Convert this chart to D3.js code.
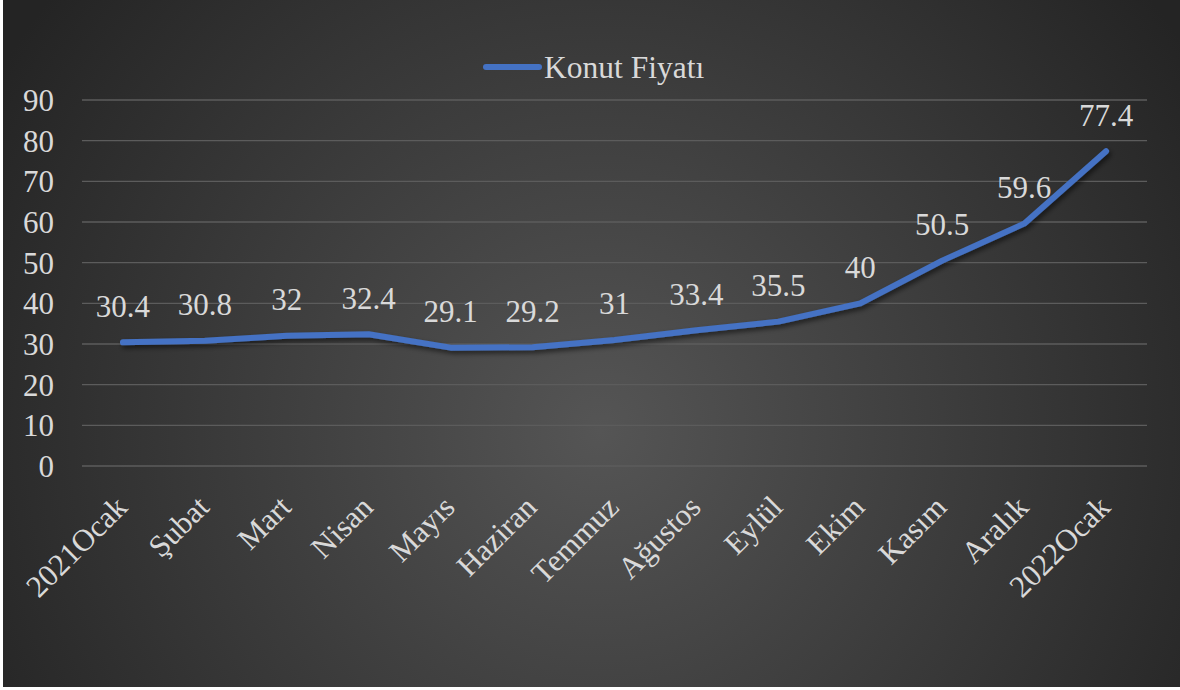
<!DOCTYPE html>
<html>
<head>
<meta charset="utf-8">
<script src="https://cdn.jsdelivr.net/npm/d3@7"></script>
<style>
  html, body { margin: 0; padding: 0; background: #ffffff; }
  svg { display: block; }
</style>
</head>
<body>
<svg id="chart" width="1180" height="690"></svg>
<script>
const categories = ["2021Ocak","Şubat","Mart","Nisan","Mayıs","Haziran","Temmuz","Ağustos","Eylül","Ekim","Kasım","Aralık","2022Ocak"];
const values = [30.4, 30.8, 32, 32.4, 29.1, 29.2, 31, 33.4, 35.5, 40, 50.5, 59.6, 77.4];
const yTicks = [0, 10, 20, 30, 40, 50, 60, 70, 80, 90];
const seriesName = "Konut Fiyatı";

const svg = d3.select("#chart");
const FONT = "'Liberation Serif', 'Times New Roman', serif";
const TXT = "#d9d9d9";
const BLUE = "#4472c4";

const defs = svg.append("defs");
const grad = defs.append("radialGradient")
  .attr("id", "bg").attr("gradientUnits", "userSpaceOnUse")
  .attr("cx", 600).attr("cy", 430).attr("r", 700);
grad.append("stop").attr("offset", "0%").attr("stop-color", "#555555");
grad.append("stop").attr("offset", "100%").attr("stop-color", "#242424");

const sh = defs.append("filter").attr("id", "shadow")
  .attr("x", "-10%").attr("y", "-10%").attr("width", "120%").attr("height", "130%");
sh.append("feDropShadow").attr("dx", 2).attr("dy", 3).attr("stdDeviation", 2.5)
  .attr("flood-color", "#000").attr("flood-opacity", 0.55);

svg.append("rect").attr("x", 3).attr("y", 0).attr("width", 1177).attr("height", 687)
  .attr("fill", "url(#bg)");

const x = d3.scaleBand().domain(categories).range([82, 1147]);
const y = d3.scaleLinear().domain([0, 90]).range([466, 100]);
const cx = d => x(d) + x.bandwidth() / 2;

// gridlines
svg.append("g").selectAll("line").data(yTicks).join("line")
  .attr("x1", 82).attr("x2", 1147)
  .attr("y1", d => y(d)).attr("y2", d => y(d))
  .attr("stroke", "#5c5c5c").attr("stroke-width", 1.3);

// y axis labels
const yAxis = d3.axisLeft(y).tickValues(yTicks).tickSize(0).tickPadding(0);
const yg = svg.append("g").attr("transform", "translate(54,0)").call(yAxis);
yg.attr("font-family", FONT);
yg.select(".domain").remove();
yg.selectAll("text").attr("fill", TXT).attr("font-family", FONT).attr("font-size", 31)
  .attr("dy", "0.34em").attr("text-anchor", "end").attr("x", 0);

// x axis labels
const xAxis = d3.axisBottom(x).tickSize(0);
const xg = svg.append("g").call(xAxis);
xg.attr("font-family", FONT);
xg.select(".domain").remove();
xg.selectAll(".tick").attr("transform", d => `translate(${cx(d) + 6},509)`);
xg.selectAll("text").attr("fill", TXT).attr("font-family", FONT).attr("font-size", 31)
  .attr("y", 0).attr("dy", 0).attr("text-anchor", "end").attr("transform", "rotate(-45)");

// line
const line = d3.line().x((d, i) => cx(categories[i])).y(d => y(d)).curve(d3.curveLinear);
svg.append("path").datum(values)
  .attr("d", line).attr("fill", "none").attr("stroke", BLUE)
  .attr("stroke-width", 6).attr("stroke-linecap", "round").attr("stroke-linejoin", "round")
  .attr("filter", "url(#shadow)");

// data labels
svg.append("g").selectAll("text").data(values).join("text")
  .attr("x", (d, i) => cx(categories[i]))
  .attr("y", d => y(d) - 25.5)
  .attr("text-anchor", "middle").attr("fill", TXT)
  .attr("font-family", FONT).attr("font-size", 31)
  .text(d => d);

// legend
const lg = svg.append("g");
lg.append("line").attr("x1", 486).attr("x2", 539).attr("y1", 67).attr("y2", 67)
  .attr("stroke", BLUE).attr("stroke-width", 6).attr("stroke-linecap", "round");
lg.append("text").attr("x", 544).attr("y", 77.5).attr("fill", TXT)
  .attr("font-family", FONT).attr("font-size", 31.5).text(seriesName);
</script>
</body>
</html>
